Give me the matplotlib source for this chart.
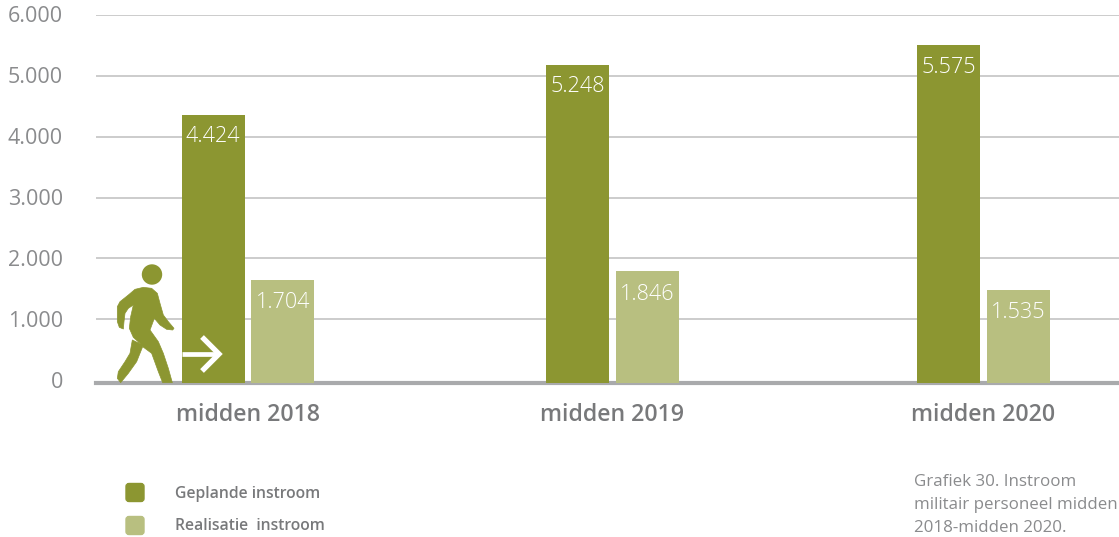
import matplotlib
matplotlib.use("Agg")
import matplotlib.pyplot as plt
from matplotlib.patches import Polygon, Circle, FancyBboxPatch
from matplotlib.lines import Line2D

W, H = 1119, 537
categories = ["midden 2018", "midden 2019", "midden 2020"]
gepland = [4424, 5248, 5575]
realisatie = [1704, 1846, 1535]
labels_gepland = ["4.424", "5.248", "5.575"]
labels_realisatie = ["1.704", "1.846", "1.535"]
tick_values = [0, 1000, 2000, 3000, 4000, 5000, 6000]
tick_labels = ["0", "1.000", "2.000", "3.000", "4.000", "5.000", "6.000"]
legend_labels = ["Geplande instroom", "Realisatie  instroom"]
caption = "Grafiek 30. Instroom\nmilitair personeel midden\n2018-midden 2020."

DARK, LIGHT = "#8c9631", "#b8bf80"
GREY, GREY2, GRID = "#8a8b8d", "#78797b", "#c4c4c4"
plt.rcParams["font.family"] = ["Open Sans", "DejaVu Sans"]

fig = plt.figure(figsize=(W / 100, H / 100), dpi=100)

def pixel_axes(zorder):
    a = fig.add_axes([0, 0, 1, 1], zorder=zorder)
    a.set_xlim(0, W)
    a.set_ylim(H, 0)
    a.axis("off")
    return a

# gridline axes: 0 at y=380, 6000 at y=15
left, right = 96, W
gtop, gbot = 15, 380
ag = fig.add_axes([left / W, 1 - gbot / H, (right - left) / W, (gbot - gtop) / H], zorder=1)
ag.set_ylim(0, 6000)
ag.set_xlim(0, 1)
ag.patch.set_alpha(0)
for s in ag.spines.values():
    s.set_visible(False)
ag.set_xticks([])
ag.set_yticks(tick_values[1:], [""] * 6)
ag.yaxis.grid(True, color=GRID, lw=1.2)
ag.tick_params(axis="y", length=0)
for v, lab in zip(tick_values, tick_labels):
    ag.annotate(lab, (0, v), xycoords=("axes fraction", "data"), xytext=(-33, -2),
                textcoords="offset pixels", ha="right", va="center",
                fontsize=15.5, color=GREY, annotation_clip=False)

# bar axes: 0 at y=383, scale 0.0606 px per unit
btop, bbot = 20, 383
ax = fig.add_axes([left / W, 1 - bbot / H, (right - left) / W, (bbot - btop) / H], zorder=2)
ax.patch.set_alpha(0)
ax.set_xlim(left, right)
ax.set_ylim(0, (bbot - btop) / 0.0606)
ax.set_yticks([])
ax.set_xticks([])
for s in ["top", "left", "right"]:
    ax.spines[s].set_visible(False)
ax.spines["bottom"].set_color("#a9aaac")
ax.spines["bottom"].set_linewidth(3)

GROUP_X = [248, 612.5, 983.5]
BAR_W, GAP = 63, 6.5
for x, a, b, la, lb, c in zip(GROUP_X, gepland, realisatie, labels_gepland, labels_realisatie, categories):
    x1, x2 = x - (BAR_W + GAP) / 2, x + (BAR_W + GAP) / 2
    ax.bar(x1, a, BAR_W, color=DARK, zorder=3)
    ax.bar(x2, b, BAR_W, color=LIGHT, zorder=3)
    ax.annotate(la, (x1, a), xytext=(0, -22), textcoords="offset pixels", ha="center", va="center",
                color="white", fontsize=15.5, fontweight="light", zorder=5)
    ax.annotate(lb, (x2, b), xytext=(0, -23), textcoords="offset pixels", ha="center", va="center",
                color="white", fontsize=15.5, fontweight="light", zorder=5)
    ax.annotate(c, (x, 0), xytext=(0, -32), textcoords="offset pixels", ha="center", va="center",
                color=GREY2, fontsize=16.7, fontweight="semibold", annotation_clip=False)

# pictogram, arrow, legend and caption
p = pixel_axes(3)
z = [(130, 112), (155, 115), (172, 130), (180, 160), (190, 195), (205, 215), (222, 235), (218, 240),
     (200, 238), (180, 225), (163, 205), (150, 240), (175, 275), (190, 310), (205, 355), (217, 398),
     (188, 398), (175, 365), (155, 310), (128, 290), (110, 335), (85, 370), (62, 398), (52, 385),
     (55, 365), (75, 335), (90, 310), (97, 270), (122, 282), (100, 262), (88, 235), (92, 200),
     (100, 165), (85, 175), (75, 190), (72, 215), (70, 237), (58, 232), (52, 215), (52, 170),
     (60, 155), (85, 135), (105, 118)]
p.add_patch(Polygon([(100 + a / 3, 250 + b / 3) for a, b in z], closed=True, fc=DARK, ec=DARK,
                    lw=0.5, joinstyle="round"))
p.add_patch(Circle((152, 274.5), 10.2, fc=DARK, ec="none"))
p.add_line(Line2D([182, 218], [354, 354], color="white", lw=3.4, solid_capstyle="butt"))
p.add_line(Line2D([202, 219, 202], [337, 354, 371], color="white", lw=3.8,
                  solid_joinstyle="miter", solid_capstyle="butt"))

for y, col, lab in zip([492.5, 525.5], [DARK, LIGHT], legend_labels):
    p.add_patch(FancyBboxPatch((126, y - 9), 18, 18, boxstyle="round,pad=0,rounding_size=3",
                               fc=col, ec=col, lw=1))
    p.text(175, y + 1, lab, ha="left", va="center", fontsize=11.3, fontweight="semibold", color=GREY2)

p.text(914, 505, caption, ha="left", va="center", fontsize=12.2, color=GREY, linespacing=1.62)

fig.savefig("out.png", dpi=100)
